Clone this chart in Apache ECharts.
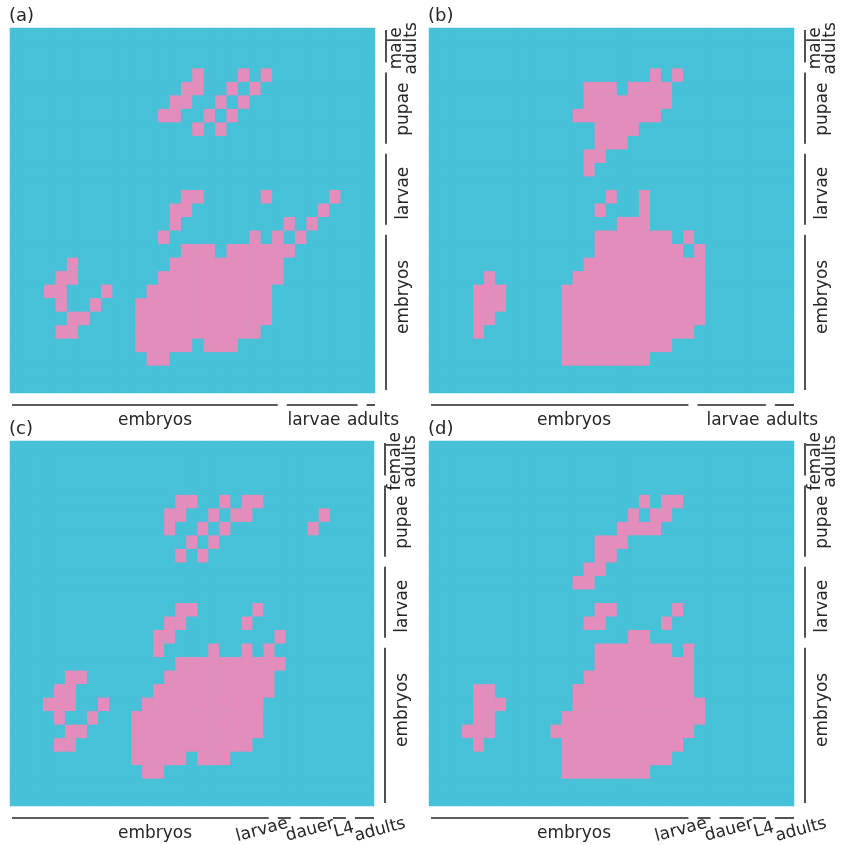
<!DOCTYPE html>
<html><head><meta charset="utf-8">
<script src="https://cdn.jsdelivr.net/npm/echarts@6/dist/echarts.min.js"></script>
<style>html,body{margin:0;padding:0;background:#fff}#c{width:844px;height:845px}</style>
</head><body><div id="c"></div>
<script>
// ---------- DATA (rows listed top -> bottom; each entry = pink column indices) ----------
const pinkA = ["","","","16,20,22","15-16,19,21","14-15,18,20","13-14,17,19","16,18","","","","",
  "15-16,22,28","14-15,27","14,24,26","13,21,23,25","15-17,19-24","5,14-23","4-5,13-23","3-4,8,12-22",
  "4,7,11-22","5-6,11-22","4-5,11-21","11-15,17-19","12-13","",""];
const pinkB = ["","","","20,22","14-16,18-21","14-21","13-20","15-18","15-17","14-15","14","",
  "16,19","15,19","17-19","15-21,23","15-22,24","14-24","5,13-24","4-6,12-24",
  "4-6,12-24","4-5,12-24","4,12-23","12-21","12-19","",""];
const pinkC = ["","","","","15-16,19,21-22","14-15,18,20-21,28","14,17,19,27","16,18","15,17","","","",
  "15-16,22","14-15,21","13-14,24","13,18,21,23","15-24","5-6,14-23","4-5,13-23","3-5,8,12-22",
  "4,7,11-22","5-6,11-22","4-5,11-21","11-15,17-19","12-13","",""];
const pinkD = ["","","","","19,21-22","18,20-21","17-20","15-17","15-16","14-15","13-14","",
  "15-16,22","14-15,21","18-19","15-21,23","15-23","14-23","4-5,13-23","4-6,13-24",
  "4-5,12-24","3-5,11-23","4,12-22","12-21","12-19","",""];

const xGroupsTop = ["embryos","larvae","adults"];
const xSizesA = [24,7,1];
const xSizesB = [24,7,2];
const xGroupsBottom = ["embryos","larvae","dauer","L4","adults"];
const xSizesBottom = [24,2,3,2,2];
const yGroupsMale = ["male\nadults","pupae","larvae","embryos"];   // top -> bottom
const yGroupsFemale = ["female\nadults","pupae","larvae","embryos"];
const ySizes = [3,6,6,12];
const panelTags = ["(a)","(b)","(c)","(d)"];

// ---------- LAYOUT / STYLE ----------
const CYAN = '#46C1D8', PINK = '#E28DBB', INK = '#262626';
const FONT = 'DejaVu Sans';
const grids = [
  {left:10, top:28, width:365, height:365},
  {left:429, top:28, width:365, height:365},
  {left:10, top:441, width:364, height:365},
  {left:429, top:441, width:365, height:365}
];
const topLabelDx = [145,304,363];
const botLabelDx = [[145,252,300,334,370],[145,252,300,335,372]];
const botLabelRot = [0,15,15,15,15];
const yLabelDy = [0,0,3,-15];

const panels = [
  {rows:pinkA, xs:xSizesA, xg:xGroupsTop, yg:yGroupsMale, dx:topLabelDx, rot:[0,0,0]},
  {rows:pinkB, xs:xSizesB, xg:xGroupsTop, yg:yGroupsMale, dx:topLabelDx, rot:[0,0,0]},
  {rows:pinkC, xs:xSizesBottom, xg:xGroupsBottom, yg:yGroupsFemale, dx:botLabelDx[0], rot:botLabelRot},
  {rows:pinkD, xs:xSizesBottom, xg:xGroupsBottom, yg:yGroupsFemale, dx:botLabelDx[1], rot:botLabelRot}
];

function parseRow(s){
  const out = new Set();
  if(!s) return out;
  s.split(',').forEach(t=>{
    const parts = t.split('-').map(Number);
    const a = parts[0], b = parts.length>1 ? parts[1] : parts[0];
    for(let k=a;k<=b;k++) out.add(k);
  });
  return out;
}
const nRows = ySizes.reduce((a,b)=>a+b,0);

const chart = echarts.init(document.getElementById('c'), null, {renderer:'canvas'});
const option = {
  animation:false,
  backgroundColor:'#fff',
  grid: grids.map(g=>Object.assign({show:true, backgroundColor:CYAN, borderWidth:0}, g)),
  xAxis: [], yAxis: [], series: [],
  visualMap: {type:'piecewise', show:false, dimension:2, seriesIndex:[0,1,2,3],
    pieces:[{value:0, color:CYAN},{value:1, color:PINK}]}
};
panels.forEach((p,i)=>{
  const ncol = p.xs.reduce((a,b)=>a+b,0);
  p.ncol = ncol;
  option.xAxis.push({type:'category', gridIndex:i, data:[...Array(ncol).keys()], show:false});
  option.yAxis.push({type:'category', gridIndex:i, data:[...Array(nRows).keys()], inverse:true, show:false});
  const data = [];
  p.rows.forEach((s,r)=>{
    const set = parseRow(s);
    for(let c=0;c<ncol;c++) data.push([c,r,set.has(c)?1:0]);
  });
  option.series.push({type:'heatmap', xAxisIndex:i, yAxisIndex:i, data, progressive:0,
    itemStyle:{borderWidth:0}, emphasis:{disabled:true}, silent:true});
});
chart.setOption(option);

// ---------- brackets and labels ----------
const g = [];
panels.forEach((p,i)=>{
  const a = chart.convertToPixel({gridIndex:i},[0,0]);
  const b = chart.convertToPixel({gridIndex:i},[1,1]);
  const bw = b[0]-a[0], bh = b[1]-a[1];
  const left = a[0]-bw/2, top = a[1]-bh/2;
  const right = left + bw*p.ncol, bottom = top + bh*nRows;
  let s = 0;
  const lastX = p.xs.length-1;
  p.xs.forEach((n,k)=>{
    const x1 = left + s*bw + (k===0 ? 2 : 3), x2 = left + (s+n)*bw - (k===lastX ? 0 : 6);
    g.push({type:'line', silent:true, shape:{x1, y1:bottom+12, x2, y2:bottom+12}, style:{stroke:INK, lineWidth:1.6}});
    g.push({type:'text', silent:true, x:left + p.dx[k], y: bottom + (p.rot[k]? 24 : 28), rotation: p.rot[k]*Math.PI/180,
      style:{text:p.xg[k], x:0, y:0, align:'center', verticalAlign:'middle', fontFamily:FONT, fontSize:17, fill:INK}});
    s += n;
  });
  s = 0;
  const lastY = ySizes.length-1;
  ySizes.forEach((n,k)=>{
    const y1 = top + s*bh + (k===0 ? 2 : 4), y2 = top + (s+n)*bh - (k===lastY ? 3 : 6);
    g.push({type:'line', silent:true, shape:{x1:right+11, y1, x2:right+11, y2}, style:{stroke:INK, lineWidth:1.6}});
    g.push({type:'text', silent:true, x:right+29, y:(top + (s+n/2)*bh) + yLabelDy[k], rotation:Math.PI/2,
      style:{text:p.yg[k], x:0, y:0, align:'center', verticalAlign:'middle', fontFamily:FONT, fontSize:17, fill:INK, lineHeight:15}});
    s += n;
  });
  g.push({type:'text', silent:true, x:left-1, y:top-12,
    style:{text:panelTags[i], x:0, y:0, align:'left', verticalAlign:'middle', fontFamily:FONT, fontSize:18, fill:INK}});
});
chart.setOption({graphic:{elements:g}});
</script>
</body></html>
